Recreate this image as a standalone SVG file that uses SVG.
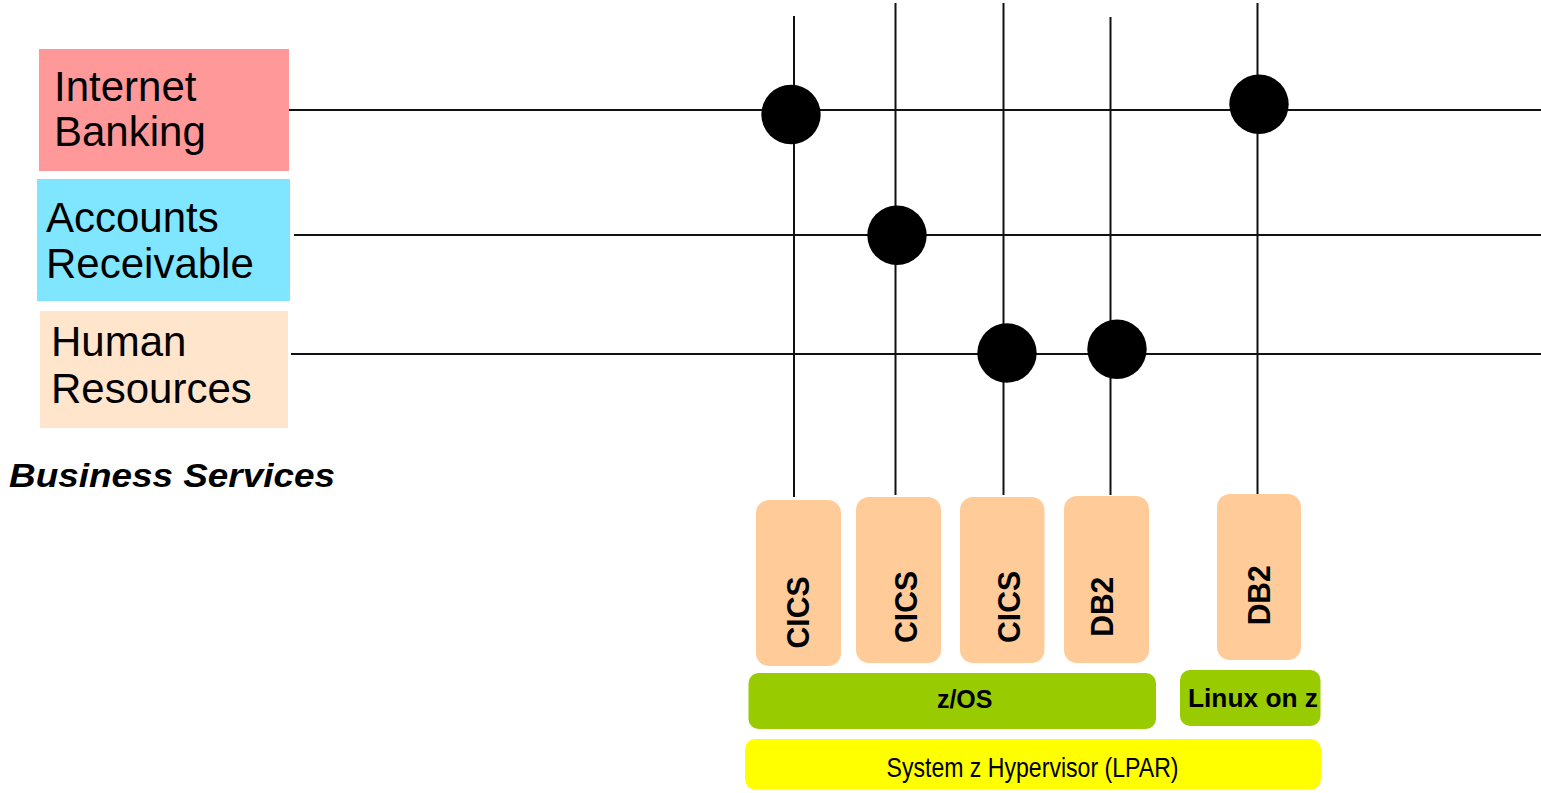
<svg xmlns="http://www.w3.org/2000/svg" width="1541" height="793" viewBox="0 0 1541 793">
  <style>
    .label { font-family: "Liberation Sans", Arial, sans-serif; font-size: 42px; fill: #000; }
    .wire { stroke: #111; stroke-width: 2; fill: none; }
    .dot { fill: #000; }
    .app { fill: #FFCC99; }
    .app-text { font-family: "Liberation Sans", Arial, sans-serif; font-size: 32px; font-weight: bold; fill: #000; text-anchor: middle; }
    .os { fill: #99CC00; }
    .os-text { font-family: "Liberation Sans", Arial, sans-serif; font-weight: bold; fill: #000; }
  </style>

  <rect width="1541" height="793" fill="#fff"/>

  <!-- Business services -->
  <g id="internet-banking">
    <rect x="39" y="49" width="250" height="122" fill="#FF9999"/>
    <text class="label" x="54" y="101">Internet</text>
    <text class="label" x="54" y="146">Banking</text>
  </g>
  <g id="accounts-receivable">
    <rect x="37" y="179" width="253" height="122" fill="#80E5FF"/>
    <text class="label" x="46" y="232">Accounts</text>
    <text class="label" x="46" y="278">Receivable</text>
  </g>
  <g id="human-resources">
    <rect x="40" y="311" width="248" height="117" fill="#FFE5CC"/>
    <text class="label" x="51" y="356">Human</text>
    <text class="label" x="51" y="403">Resources</text>
  </g>
  <g id="business-services-caption">
    <text x="9" y="487" font-family="'Liberation Sans', Arial, sans-serif" font-size="34" font-weight="bold" font-style="italic" textLength="326" lengthAdjust="spacingAndGlyphs">Business Services</text>
  </g>

  <!-- Service wires and runtime wires -->
  <g id="connectors">
    <line class="wire" x1="289" y1="110" x2="1541" y2="110"/>
    <line class="wire" x1="294" y1="235" x2="1541" y2="235"/>
    <line class="wire" x1="291" y1="354" x2="1541" y2="354"/>
    <line class="wire" x1="794" y1="16" x2="794" y2="497"/>
    <line class="wire" x1="895.5" y1="3" x2="895.5" y2="495"/>
    <line class="wire" x1="1003.5" y1="3" x2="1003.5" y2="495"/>
    <line class="wire" x1="1110.5" y1="17" x2="1110.5" y2="495"/>
    <line class="wire" x1="1257.5" y1="3" x2="1257.5" y2="494"/>
    <circle class="dot" cx="791" cy="114.5" r="29.7"/>
    <circle class="dot" cx="897" cy="235.3" r="29.7"/>
    <circle class="dot" cx="1007" cy="353" r="29.7"/>
    <circle class="dot" cx="1117" cy="349.2" r="29.7"/>
    <circle class="dot" cx="1259" cy="104.3" r="29.7"/>
  </g>

  <!-- Runtime stack -->
  <g id="cics-1">
    <rect class="app" x="756" y="500" width="85" height="166" rx="13"/>
    <text class="app-text" transform="translate(808.5 612.5) rotate(-90)" textLength="72" lengthAdjust="spacingAndGlyphs">CICS</text>
  </g>
  <g id="cics-2">
    <rect class="app" x="856" y="497" width="85" height="166" rx="13"/>
    <text class="app-text" transform="translate(917 607) rotate(-90)" textLength="72" lengthAdjust="spacingAndGlyphs">CICS</text>
  </g>
  <g id="cics-3">
    <rect class="app" x="960" y="497" width="84.5" height="166" rx="13"/>
    <text class="app-text" transform="translate(1019.5 607) rotate(-90)" textLength="72" lengthAdjust="spacingAndGlyphs">CICS</text>
  </g>
  <g id="db2-zos">
    <rect class="app" x="1064" y="496" width="85" height="167" rx="13"/>
    <text class="app-text" transform="translate(1113 606.7) rotate(-90)" textLength="60" lengthAdjust="spacingAndGlyphs">DB2</text>
  </g>
  <g id="db2-linux">
    <rect class="app" x="1217" y="494" width="84" height="166" rx="13"/>
    <text class="app-text" transform="translate(1269.5 595.3) rotate(-90)" textLength="60" lengthAdjust="spacingAndGlyphs">DB2</text>
  </g>
  <g id="zos">
    <rect class="os" x="748.5" y="673" width="407.5" height="56" rx="10"/>
    <text class="os-text" x="964.7" y="708.3" font-size="25" text-anchor="middle">z/OS</text>
  </g>
  <g id="linux-on-z">
    <rect class="os" x="1180" y="670" width="140.5" height="56" rx="10"/>
    <text class="os-text" x="1188" y="707" font-size="26" textLength="130" lengthAdjust="spacingAndGlyphs">Linux on z</text>
  </g>
  <g id="hypervisor">
    <rect x="745" y="739" width="576" height="50.5" rx="10" fill="#FFFF00"/>
    <text x="1032.5" y="776.5" font-family="'Liberation Sans', Arial, sans-serif" font-size="28" text-anchor="middle" textLength="292" lengthAdjust="spacingAndGlyphs" fill="#000">System z Hypervisor (LPAR)</text>
  </g>
</svg>
